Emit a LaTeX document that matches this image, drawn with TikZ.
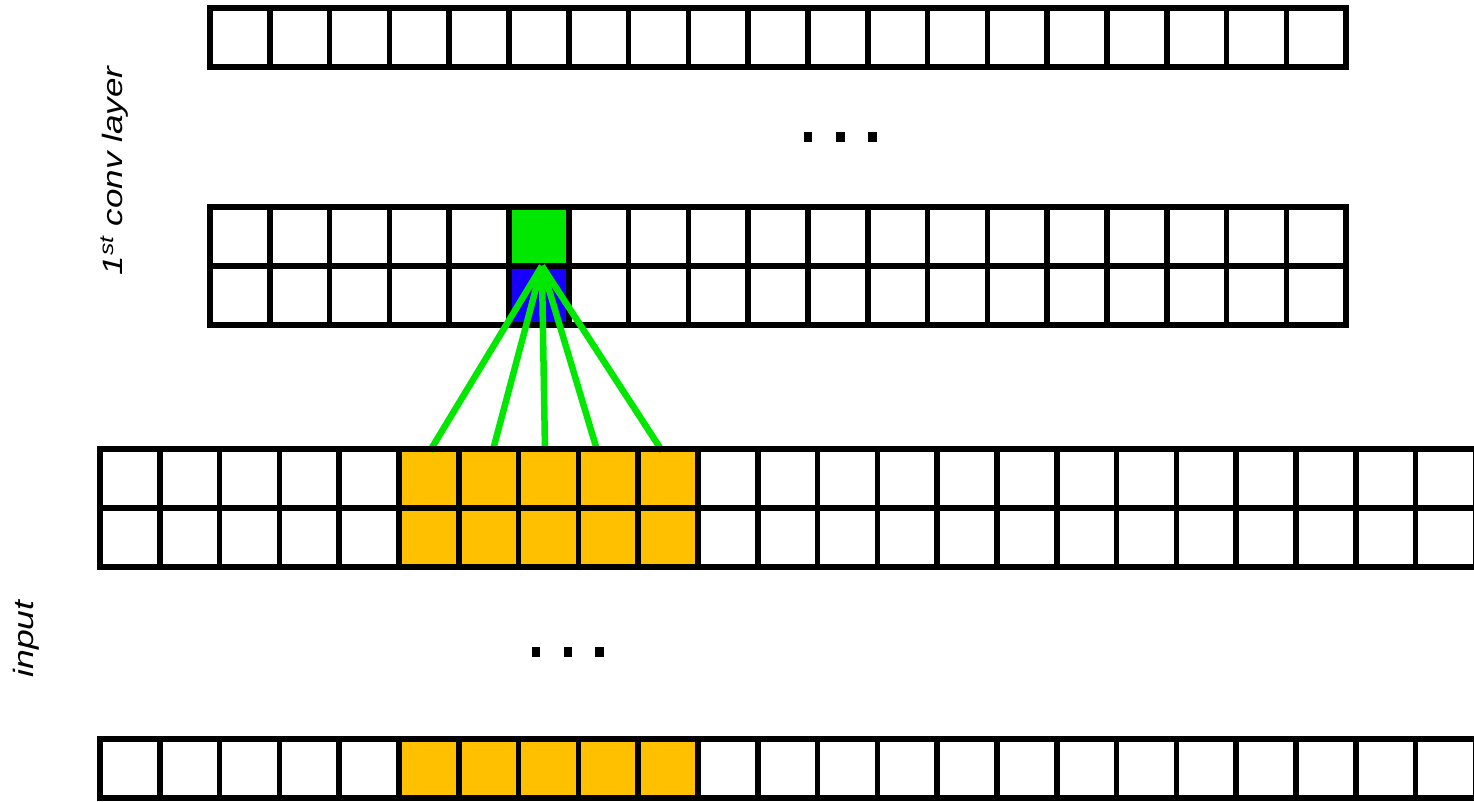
\documentclass[tikz,border=0pt]{standalone}
\usepackage{fontspec}
\setmainfont{Liberation Sans}
\usepackage{graphicx}
\definecolor{cellgreen}{RGB}{0,232,0}
\definecolor{cellblue}{RGB}{24,0,255}
\definecolor{cellorange}{RGB}{255,192,0}
\begin{document}
\begin{tikzpicture}[x=1pt,y=-1pt,
  cell/.style={draw=black, line width=5.5pt, fill=white, minimum width=59.8pt,
    minimum height=59pt, inner sep=0pt, outer sep=0pt, anchor=north west},
  link/.style={draw=cellgreen, line width=6.5pt},
  dotmark/.style={fill=black, minimum width=8.5pt, minimum height=10pt, inner sep=0pt, outer sep=0pt},
  lbl/.style={font=\fontsize{28}{32}\selectfont\itshape, inner sep=0pt, rotate=90}]
\useasboundingbox[fill=white] (0,0) rectangle (1474,802);
% top conv row
\foreach \i in {1,...,19} {
  \pgfmathsetmacro\xx{210+59.8*(\i-1)}
  \node[cell] (t-\i) at (\xx,8) {};
}
% conv layer two rows
\foreach \i in {1,...,19} {
  \pgfmathsetmacro\xx{210+59.8*(\i-1)}
  \ifnum\i=6 \def\fa{cellgreen}\def\fb{cellblue}\else\def\fa{white}\def\fb{white}\fi
  \node[cell, fill=\fa] (c1-\i) at (\xx,207) {};
  \node[cell, fill=\fb] (c2-\i) at (\xx,266) {};
}
% input two rows
\foreach \i in {1,...,23} {
  \pgfmathsetmacro\xx{100+59.8*(\i-1)}
  \def\fc{white}
  \ifnum\i>5 \ifnum\i<11 \def\fc{cellorange}\fi\fi
  \node[cell, fill=\fc] (a1-\i) at (\xx,449) {};
  \node[cell, fill=\fc] (a2-\i) at (\xx,508) {};
  \node[cell, fill=\fc] (b-\i) at (\xx,739) {};
}
% connections
\coordinate (apex) at ([xshift=3pt]c1-6.south);
\draw[link] (apex) -- ([xshift=1pt,yshift=-2pt]a1-6.north);
\draw[link] (apex) -- ([xshift=4pt,yshift=-2pt]a1-7.north);
\draw[link] (apex) -- ([xshift=-3.5pt,yshift=-2pt]a1-8.north);
\draw[link] (apex) -- ([xshift=-11pt,yshift=-2pt]a1-9.north);
\draw[link] (apex) -- ([xshift=-6pt,yshift=-2pt]a1-10.north);
% redraw top border of the input row over the line ends
\draw[line width=5.5pt] (a1-1.north west) -- (a1-23.north east);
% dots
\node[dotmark] (d1) at (808,137) {};
\node[dotmark] (d2) at (840.5,137) {};
\node[dotmark] (d3) at (872.5,137) {};
\node[dotmark] (e1) at (536,652) {};
\node[dotmark] (e2) at (568,652) {};
\node[dotmark] (e3) at (599.5,652) {};
% labels
\node[lbl] (convlbl) at (115,171) {\scalebox{1.25}[1]{1\textsuperscript{st} conv layer}};
\node[lbl] (inlbl) at (26,639) {\scalebox{1.27}[1]{input}};
\end{tikzpicture}
\end{document}
